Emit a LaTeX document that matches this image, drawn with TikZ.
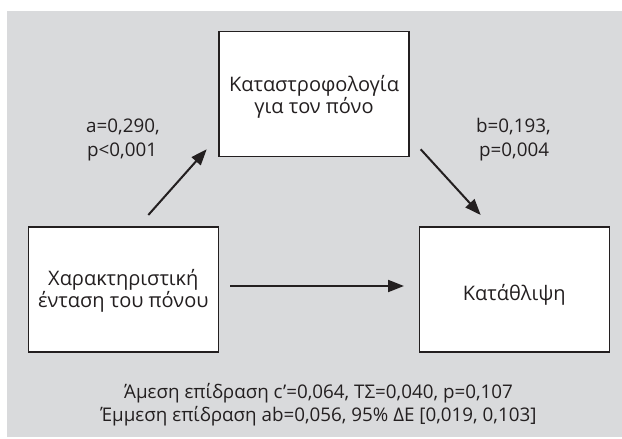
\documentclass[tikz,border=0pt]{standalone}
\usepackage{fontspec}
\setmainfont{Open Sans}
\usetikzlibrary{arrows.meta}
\definecolor{bg}{RGB}{217,218,220}
\definecolor{ink}{RGB}{35,31,32}
\begin{document}
\begin{tikzpicture}[x=1pt,y=-1pt,
  box/.style={draw=ink, fill=white, line width=1.1pt, minimum width=190pt, minimum height=125pt, inner sep=0pt},
  boxtext/.style={anchor=base, text=ink, inner sep=0pt, font=\fontsize{20}{23}\selectfont},
  lbl/.style={anchor=base west, text=ink, inner sep=0pt, font=\fontsize{18.8}{24}\selectfont},
  note/.style={anchor=base, text=ink, inner sep=0pt, font=\fontsize{18.8}{23}\selectfont},
  arr/.style={draw=ink, line width=2pt, -{Triangle[length=16pt,width=12pt]}}]
\useasboundingbox (0,0) rectangle (622,439);
\fill[bg] (7,11) rectangle (622,437);
\node[box] (top) at (314,94) {};
\node[box] (left) at (123.3,289.5) {};
\node[box] (right) at (514.3,289.5) {};
\node[boxtext] (t1) at (314,91.5) {Καταστροφολογία};
\node[boxtext] (t2) at (314,113.5) {για τον πόνο};
\node[boxtext] (l1) at (123.3,285.5) {Χαρακτηριστική};
\node[boxtext] (l2) at (123.3,307.5) {ένταση του πόνου};
\node[boxtext] (r1) at (514.3,300.5) {Κατάθλιψη};
\coordinate (a1) at (148.3,215);
\coordinate (a2) at (206.7,149.3);
\coordinate (b1) at (420.7,149.3);
\coordinate (b2) at (480.7,215);
\coordinate (c1) at (230,286);
\coordinate (c2) at (404,286);
\draw[arr] (a1) -- (a2);
\draw[arr] (b1) -- (b2);
\draw[arr] (c1) -- (c2);
\node[lbl] (la1) at (86,132.5) {a=0,290,};
\node[lbl] (la2) at (87,156.5) {p<0,001};
\node[lbl] (lb1) at (476,132.5) {b=0,193,};
\node[lbl] (lb2) at (479,156.5) {p=0,004};
\node[note] (n1) at (318.5,398) {Άμεση επίδραση c’=0,064, ΤΣ=0,040, p=0,107};
\node[note] (n2) at (318.5,421.5) {Έμμεση επίδραση ab=0,056, 95\% ΔΕ [0,019, 0,103]};
\end{tikzpicture}
\end{document}
